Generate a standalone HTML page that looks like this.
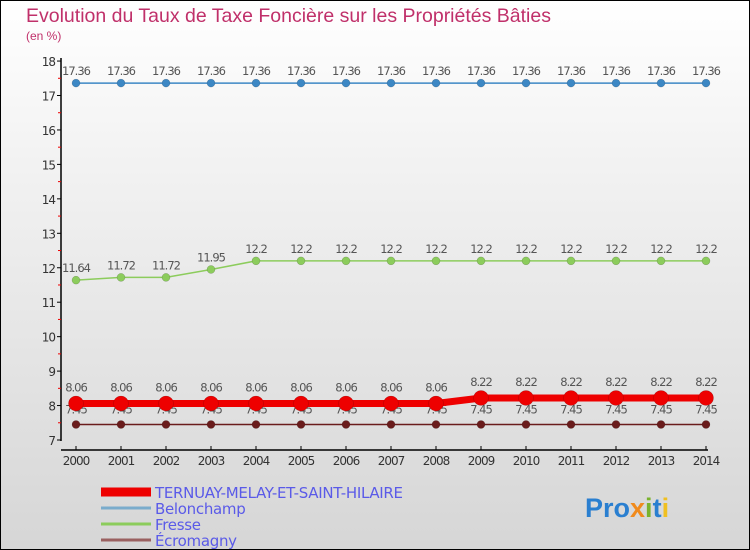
<!DOCTYPE html>
<html><head><meta charset="utf-8"><style>
body{margin:0;}
#wrap{position:relative;width:748px;height:548px;border:1px solid #000;background:linear-gradient(#ffffff,#f2f2f2 30%,#d6d6d6);overflow:hidden;font-family:"DejaVu Sans","Liberation Sans",sans-serif;}
svg{position:absolute;left:-1px;top:-1px;}
</style></head><body>
<div id="wrap">
<svg id="chart" width="750" height="550">
<text x="26" y="22" font-size="19.5" fill="#c0306a" font-family="Liberation Sans, sans-serif">Evolution du Taux de Taxe Foncière sur les Propriétés Bâties</text>
<text x="26" y="40" font-size="12" fill="#c0306a" font-family="Liberation Sans, sans-serif">(en %)</text>
<g id="g"></g>
<g>
<text x="585" y="517" font-size="27" font-weight="bold" fill="#2a7fd0" font-family="Liberation Sans, sans-serif">Pro<tspan fill="#f08a1c">x</tspan><tspan fill="#7ab32e">i</tspan>t<tspan fill="#f0c020">i</tspan></text>
</g>
</svg>
</div>
<script>
const years=[2000,2001,2002,2003,2004,2005,2006,2007,2008,2009,2010,2011,2012,2013,2014];
const ternuay=[8.06,8.06,8.06,8.06,8.06,8.06,8.06,8.06,8.06,8.22,8.22,8.22,8.22,8.22,8.22];
const belonchamp=[17.36,17.36,17.36,17.36,17.36,17.36,17.36,17.36,17.36,17.36,17.36,17.36,17.36,17.36,17.36];
const fresse=[11.64,11.72,11.72,11.95,12.2,12.2,12.2,12.2,12.2,12.2,12.2,12.2,12.2,12.2,12.2];
const ecromagny=[7.45,7.45,7.45,7.45,7.45,7.45,7.45,7.45,7.45,7.45,7.45,7.45,7.45,7.45,7.45];
const yTicks=[7,8,9,10,11,12,13,14,15,16,17,18];
const seriesNames=["TERNUAY-MELAY-ET-SAINT-HILAIRE","Belonchamp","Fresse","Écromagny"];
const NS="http://www.w3.org/2000/svg";
const g=document.getElementById('g');
const X=i=>76+i*45;
const Y=v=>440-(v-7)*34.45;
function el(t,a,txt){const e=document.createElementNS(NS,t);for(const k in a)e.setAttribute(k,a[k]);if(txt!==undefined)e.textContent=txt;g.appendChild(e);return e;}
let e;
e=el('line',{x1:61,y1:58,x2:61,y2:441,stroke:'#000','stroke-width':1.5});


e=el('line',{x1:61,y1:450,x2:708,y2:450,stroke:'#000','stroke-width':1.5});


yTicks.forEach(v=>{
 el('line',{x1:57,y1:Y(v),x2:61,y2:Y(v),stroke:'#000'});
 e=el('text',{x:55,y:Y(v)+5,'font-size':12,'text-anchor':'end',fill:'#333','letter-spacing':'-1'},v);
 
 
 if(v<18){el('line',{x1:58,y1:Y(v+0.5),x2:61,y2:Y(v+0.5),stroke:'#e00'});}
});
years.forEach((y,i)=>{
 el('line',{x1:X(i),y1:446,x2:X(i),y2:450,stroke:'#000'});
 e=el('text',{x:X(i),y:465,'font-size':12,'text-anchor':'middle',fill:'#333','letter-spacing':'-1'},y);
 
 
});
function series(vals,color,lw,r,name,labOff){
 const p=el('polyline',{points:vals.map((v,i)=>X(i)+','+Y(v)).join(' '),fill:'none',stroke:color,'stroke-width':lw});
 
 
 vals.forEach((v,i)=>{
  const c=el('circle',{cx:X(i),cy:Y(v),r:r,fill:color,stroke:'rgba(0,0,0,0.25)','stroke-width':0.5});
  
  
  const t=el('text',{x:X(i),y:Y(v)+labOff,'font-size':11.5,'text-anchor':'middle',fill:'#555','letter-spacing':'-1'},v);
  
  
 });
}
series(belonchamp,'#3c87c4',1.5,4,'belonchamp',-8);
series(fresse,'#8ccc5c',1.5,4,'fresse',-8);
series(ecromagny,'#6a1c1c',1.5,4,'ecromagny',-11);
series(ternuay,'#ee0000',7,7.5,'ternuay',-12);
const lc=['#ee0000','#7aaccc','#8ccc5c','#9a6060'],lw=[9,3,3,3];
seriesNames.forEach((n,i)=>{
 const y=492+i*16;
 const l=el('line',{x1:101,y1:y,x2:151,y2:y,stroke:lc[i],'stroke-width':lw[i]});
 
 
 const t=el('text',{x:155,y:y+6,'font-size':15,fill:'#5a5ae8','letter-spacing':'-0.3'},n);
 
 
});
</script>
</body></html>
